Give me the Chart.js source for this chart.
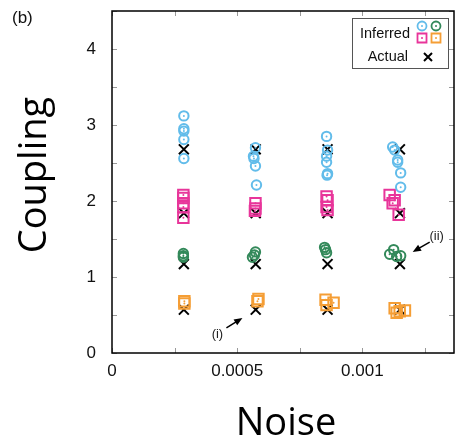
<!DOCTYPE html>
<html>
<head>
<meta charset="utf-8">
<script src="https://cdn.jsdelivr.net/npm/chart.js@4.4.0/dist/chart.umd.min.js"></script>
<style>
  html, body { margin: 0; padding: 0; background: #fff; overflow: hidden; }
  #wrap { width: 455px; height: 446px; position: relative; }
</style>
</head>
<body>
<div id="wrap"><canvas id="chart"></canvas></div>
<script>
// noise levels and the true couplings
const noiseLevels = [0.000287, 0.000574, 0.000861, 0.00115]
const actualCoupling = [2.68, 1.84, 1.17, 0.57]

// inferred couplings (x = noise, y = coupling)
const blueX = [0.000287, 0.000287, 0.000287, 0.000287, 0.000287,
  0.000573, 0.000565, 0.000567, 0.000573, 0.000577,
  0.000857, 0.000861, 0.000857, 0.000857, 0.000861, 0.000859,
  0.001121, 0.001129, 0.001141, 0.001141, 0.001153, 0.001153]
const blueY = [3.12, 2.95, 2.92, 2.81, 2.56,
  2.70, 2.59, 2.56, 2.46, 2.21,
  2.85, 2.67, 2.59, 2.51, 2.36, 2.34,
  2.71, 2.67, 2.54, 2.51, 2.37, 2.18]

const pinkX = [0.000285, 0.000285, 0.000285, 0.000285, 0.000285,
  0.000573, 0.000573, 0.000571,
  0.000857, 0.000861, 0.000857, 0.000861,
  0.001109, 0.001129, 0.001121, 0.001145]
const pinkY = [2.08, 2.04, 1.97, 1.92, 1.78,
  1.97, 1.90, 1.87,
  2.06, 2.01, 1.92, 1.88,
  2.08, 2.01, 1.97, 1.82]

const greenX = [0.000285, 0.000285, 0.000285,
  0.000573, 0.000569, 0.000561,
  0.000849, 0.000853, 0.000857,
  0.001125, 0.001109, 0.001153, 0.001137]
const greenY = [1.31, 1.28, 1.26,
  1.33, 1.29, 1.26,
  1.39, 1.36, 1.32,
  1.36, 1.30, 1.28, 1.27]

const orangeX = [0.000289, 0.000289,
  0.000585, 0.000581,
  0.000853, 0.000885, 0.000857,
  0.001129, 0.00117, 0.001137, 0.001149]
const orangeY = [0.68, 0.65,
  0.71, 0.68,
  0.70, 0.66, 0.63,
  0.59, 0.56, 0.53, 0.55]

// annotation arrows: [tailX, tailY, headX, headY], label position
const arrowI = [0.000457, 0.33, 0.000521, 0.46]
const labelI = [0.000421, 0.25]
const arrowII = [0.001269, 1.46, 0.001201, 1.33]
const labelII = [0.001297, 1.54]

const BLUE = '#62bcea'
const GREEN = '#33895a'
const PINK = '#e8359a'
const ORANGE = '#f59e35'

const toPoints = (xs, ys) => xs.map((x, i) => ({ x: x, y: ys[i] }))

const actualPoints = []
noiseLevels.forEach(n => actualCoupling.forEach(c => actualPoints.push({ x: n, y: c })))

const inferredSet = (label, xs, ys, color, style, r) => ({
  label: label,
  data: toPoints(xs, ys),
  pointStyle: style,
  pointRadius: r,
  pointHoverRadius: r,
  borderColor: color,
  backgroundColor: 'rgba(0,0,0,0)',
  pointBorderWidth: 2,
  showLine: false,
  dotted: true
})

// draws inside ticks, frame, dots in the markers, titles, legend and arrows
const decorations = {
  id: 'decorations',
  afterDatasetsDraw(chart) {
    const ctx = chart.ctx
    const area = chart.chartArea
    const xs = chart.scales.x
    const ys = chart.scales.y

    ctx.save()
    // dots inside inferred markers
    chart.data.datasets.forEach((ds, i) => {
      if (!ds.dotted) return
      const meta = chart.getDatasetMeta(i)
      ctx.fillStyle = ds.borderColor
      meta.data.forEach(pt => {
        ctx.beginPath()
        ctx.arc(pt.x, pt.y, 1, 0, Math.PI * 2)
        ctx.fill()
      })
    })

    // inside tick marks on all four sides
    ctx.strokeStyle = '#999'
    ctx.lineWidth = 1
    xs.ticks.forEach(t => {
      const px = Math.round(xs.getPixelForValue(t.value)) + 0.5
      ctx.beginPath()
      ctx.moveTo(px, area.bottom); ctx.lineTo(px, area.bottom - 5)
      ctx.moveTo(px, area.top); ctx.lineTo(px, area.top + 5)
      ctx.stroke()
    })
    ys.ticks.forEach(t => {
      const py = Math.round(ys.getPixelForValue(t.value)) + 0.5
      ctx.beginPath()
      ctx.moveTo(area.left, py); ctx.lineTo(area.left + 5, py)
      ctx.moveTo(area.right, py); ctx.lineTo(area.right - 5, py)
      ctx.stroke()
    })

    // frame
    ctx.strokeStyle = '#000'
    ctx.lineWidth = 1.5
    ctx.strokeRect(area.left, area.top, area.right - area.left, area.bottom - area.top)

    // panel label
    ctx.fillStyle = '#111'
    ctx.font = '17px "Liberation Sans", Arial, sans-serif'
    ctx.textAlign = 'left'
    ctx.textBaseline = 'middle'
    ctx.fillText('(b)', 12, 18)

    // axis titles
    ctx.font = '38px "Open Sans", "Noto Sans", sans-serif'
    ctx.fillStyle = '#000'
    ctx.textAlign = 'center'
    ctx.fillText('Noise', (area.left + area.right) / 2 + 3, 424)
    ctx.save()
    ctx.translate(35, 175)
    ctx.rotate(-Math.PI / 2)
    ctx.fillText('Coupling', 0, 0)
    ctx.restore()

    // legend box
    ctx.strokeStyle = '#555'
    ctx.lineWidth = 1
    ctx.strokeRect(352.5, 18.5, 96, 50)
    ctx.fillStyle = '#111'
    ctx.font = '14.5px "Liberation Sans", Arial, sans-serif'
    ctx.textAlign = 'right'
    ctx.fillText('Inferred', 410, 34)
    ctx.fillText('Actual', 408, 57)
    ctx.lineWidth = 1.8
    const legendMark = (color, x, y, square) => {
      ctx.strokeStyle = color
      ctx.fillStyle = color
      ctx.beginPath()
      if (square) ctx.rect(x - 4.5, y - 4.5, 9, 9)
      else ctx.arc(x, y, 4.5, 0, Math.PI * 2)
      ctx.stroke()
      ctx.beginPath()
      ctx.arc(x, y, 1, 0, Math.PI * 2)
      ctx.fill()
    }
    legendMark(BLUE, 422, 26, false)
    legendMark(GREEN, 436, 26, false)
    legendMark(PINK, 422, 38, true)
    legendMark(ORANGE, 436, 38, true)
    ctx.strokeStyle = '#000'
    ctx.lineWidth = 2
    ctx.beginPath()
    ctx.moveTo(424, 53); ctx.lineTo(432, 61)
    ctx.moveTo(432, 53); ctx.lineTo(424, 61)
    ctx.stroke()

    // annotation arrows
    const arrow = (a) => {
      const x0 = xs.getPixelForValue(a[0]), y0 = ys.getPixelForValue(a[1])
      const x1 = xs.getPixelForValue(a[2]), y1 = ys.getPixelForValue(a[3])
      const ang = Math.atan2(y1 - y0, x1 - x0)
      ctx.strokeStyle = '#000'
      ctx.fillStyle = '#000'
      ctx.lineWidth = 1.5
      ctx.beginPath()
      ctx.moveTo(x0, y0)
      ctx.lineTo(x1 - 6 * Math.cos(ang), y1 - 6 * Math.sin(ang))
      ctx.stroke()
      ctx.beginPath()
      ctx.moveTo(x1, y1)
      ctx.lineTo(x1 - 9 * Math.cos(ang - 0.4), y1 - 9 * Math.sin(ang - 0.4))
      ctx.lineTo(x1 - 9 * Math.cos(ang + 0.4), y1 - 9 * Math.sin(ang + 0.4))
      ctx.closePath()
      ctx.fill()
    }
    arrow(arrowI)
    arrow(arrowII)
    ctx.fillStyle = '#222'
    ctx.font = '13px "Liberation Sans", Arial, sans-serif'
    ctx.textAlign = 'center'
    ctx.fillText('(i)', xs.getPixelForValue(labelI[0]), ys.getPixelForValue(labelI[1]))
    ctx.fillText('(ii)', xs.getPixelForValue(labelII[0]), ys.getPixelForValue(labelII[1]))
    ctx.restore()
  }
}

new Chart(document.getElementById('chart'), {
  type: 'scatter',
  plugins: [decorations],
  data: {
    datasets: [
      inferredSet('Inferred', blueX, blueY, BLUE, 'circle', 4.7),
      inferredSet('Inferred', pinkX, pinkY, PINK, 'rect', 7.4),
      inferredSet('Inferred', greenX, greenY, GREEN, 'circle', 4.7),
      inferredSet('Inferred', orangeX, orangeY, ORANGE, 'rect', 7.4),
      {
        label: 'Actual',
        data: actualPoints,
        pointStyle: 'crossRot',
        pointRadius: 7,
        pointHoverRadius: 7,
        borderColor: '#000',
        pointBorderWidth: 2,
        showLine: false
      }
    ]
  },
  options: {
    responsive: true,
    maintainAspectRatio: false,
    animation: false,
    events: [],
    layout: { autoPadding: false, padding: { top: 11, right: 1, left: 0, bottom: 0 } },
    plugins: {
      legend: { display: false },
      tooltip: { enabled: false }
    },
    scales: {
      x: {
        type: 'linear',
        min: 0,
        max: 0.001366,
        grid: { display: false, drawTicks: false },
        border: { display: false },
        afterFit: (axis) => {
          axis.height = 93
          axis.paddingLeft = 0
          axis.paddingRight = 0
        },
        afterBuildTicks: (axis) => {
          axis.ticks = [0, 0.00025, 0.0005, 0.00075, 0.001, 0.00125].map(v => ({ value: v }))
        },
        ticks: {
          padding: 8,
          maxRotation: 0,
          autoSkip: false,
          color: '#111',
          font: { family: '"Liberation Sans", Arial, sans-serif', size: 17 },
          callback: (v) => {
            if (v === 0) return '0'
            if (Math.abs(v - 0.0005) < 1e-9) return '0.0005'
            if (Math.abs(v - 0.001) < 1e-9) return '0.001'
            return ''
          }
        }
      },
      y: {
        type: 'linear',
        min: 0,
        max: 4.5,
        grid: { display: false, drawTicks: false },
        border: { display: false },
        afterFit: (axis) => {
          axis.width = 112
          axis.paddingTop = 0
          axis.paddingBottom = 0
        },
        ticks: {
          stepSize: 0.5,
          padding: 16,
          color: '#111',
          font: { family: '"Liberation Sans", Arial, sans-serif', size: 17 },
          callback: (v) => (Number.isInteger(v) && v <= 4 ? String(v) : '')
        }
      }
    }
  }
})
</script>
</body>
</html>
